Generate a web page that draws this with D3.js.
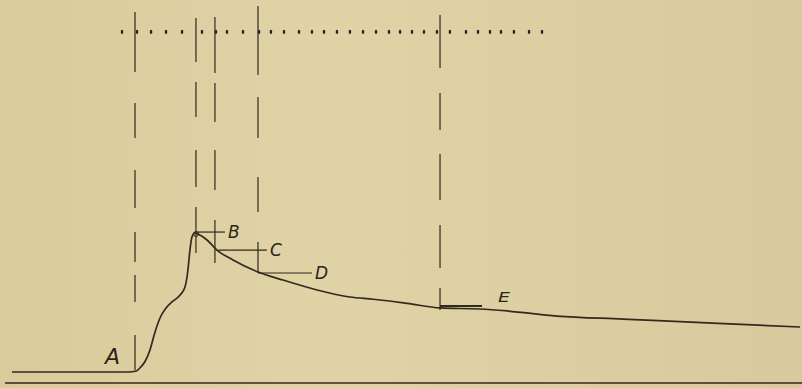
<!DOCTYPE html>
<html>
<head>
<meta charset="utf-8">
<script src="https://cdn.jsdelivr.net/npm/d3@7"></script>
<style>
  body { margin: 0; background: #dccf9f; }
  svg { display: block; }
  .lbl { font-family: "DejaVu Sans", sans-serif; font-style: italic; fill: #2e2519; }
</style>
</head>
<body>
<div id="chart"></div>
<script>
// recorded curve: time (timer dots) vs height
var curveT = [0.9, 9.6, 10.2, 10.5, 10.85, 11.22, 11.6, 11.97, 12.42, 12.87, 13.47, 13.84, 14.06, 14.21, 14.36, 14.59,
              14.81, 15.49, 16.23, 17.43, 19.3, 21.17, 23.72, 26.18, 27.9, 30.45, 32.92, 35.9, 37.93, 41.67, 46.6, 52.9, 59.85];
var curveH = [0, 0, 0.07, 0.3, 0.7, 1.47, 2.67, 3.6, 4.27, 4.67, 5.13, 5.67, 6.8, 8.13, 9.0, 9.27,
              9.2, 8.8, 8.13, 7.47, 6.67, 6.13, 5.47, 5.0, 4.85, 4.58, 4.27, 4.2, 4.07, 3.73, 3.53, 3.27, 3.0];

// timer marks along the top
var dotT = [9.13, 10.25, 11.3, 12.42, 13.62, 15.11, 16.16, 16.98, 18.18, 19.38, 20.27, 21.25, 22.37, 23.34, 24.24, 25.21,
            26.18, 27.16, 28.13, 29.1, 29.93, 30.82, 31.72, 32.69, 33.66, 34.86, 35.76, 36.66, 37.48, 38.45, 39.58, 40.55];
var dotH = 22.67;

// dashed marker lines (A .. E)
var markerT = [10.1, 14.66, 16.08, 19.3, 32.92];
var markerTop = [24.0, 23.6, 23.67, 24.4, 23.8];
var markerBottom = [0.13, 7.93, 7.27, 6.6, 4.13];

// lettered points with leader lines
var labels = ["A", "B", "C", "D", "E"];
var leaderStart = [null, 14.74, 16.3, 19.3, 32.92];
var leaderEnd = [null, 16.83, 19.97, 23.34, 36.06];
var leaderH = [null, 9.33, 8.13, 6.6, 4.4];

var width = 802, height = 388;
var x = d3.scaleLinear().domain([0, 60]).range([0, 802]);
var y = d3.scaleLinear().domain([0, 10]).range([372, 222]);

// hand-ruled dashes differ from line to line
var markerDash = ['60,31,35,32,38,24,30,13,27,33,40',
                  '44,20,35,33,37,20,50',
                  '56,10,39,28,40,30,46',
                  '69,22,41,39,35,30,35',
                  '53,25,37,24,46,25,43,20,30'];

var svg = d3.select('#chart').append('svg')
  .attr('width', width)
  .attr('height', height);

var grad = svg.append('defs').append('linearGradient')
  .attr('id', 'paper').attr('x1', 0).attr('x2', 1).attr('y1', 0).attr('y2', 0);
grad.append('stop').attr('offset', '0%').attr('stop-color', '#d9cb9b');
grad.append('stop').attr('offset', '40%').attr('stop-color', '#e0d3a6');
grad.append('stop').attr('offset', '100%').attr('stop-color', '#d8ca9c');
svg.append('rect').attr('width', width).attr('height', height).attr('fill', 'url(#paper)');

var ink = '#33291d';

// bottom line
svg.append('line')
  .attr('x1', x(0.37)).attr('x2', x(60))
  .attr('y1', y(-0.73)).attr('y2', y(-0.73))
  .attr('stroke', ink).attr('stroke-width', 1.4);

// dashed markers
svg.selectAll('.marker')
  .data(markerT)
  .enter()
  .append('line')
  .attr('class', 'marker')
  .attr('x1', function (d) { return x(d); })
  .attr('x2', function (d) { return x(d); })
  .attr('y1', function (d, i) { return y(markerTop[i]); })
  .attr('y2', function (d, i) { return y(markerBottom[i]); })
  .attr('stroke', ink)
  .attr('stroke-width', 1.2)
  .attr('stroke-dasharray', function (d, i) { return markerDash[i] + ',400'; });

// timer dots
svg.selectAll('.dot')
  .data(dotT)
  .enter()
  .append('ellipse')
  .attr('cx', function (d) { return x(d); })
  .attr('cy', y(dotH))
  .attr('rx', 1.3)
  .attr('ry', 2.1)
  .attr('fill', '#2a2230');

// the curve
var pts = curveT.map(function (t, i) { return [t, curveH[i]]; });
var line = d3.line()
  .x(function (d) { return x(d[0]); })
  .y(function (d) { return y(d[1]); })
  .curve(d3.curveMonotoneX);
svg.append('path')
  .attr('d', line(pts))
  .attr('fill', 'none')
  .attr('stroke', ink)
  .attr('stroke-width', 1.7);

// small ring at the peak
svg.append('circle')
  .attr('cx', x(14.66)).attr('cy', y(9.2))
  .attr('r', 2.5)
  .attr('fill', 'none')
  .attr('stroke', ink)
  .attr('stroke-width', 1);

// leaders
var lead = d3.range(1, labels.length);
svg.selectAll('.leader')
  .data(lead)
  .enter()
  .append('line')
  .attr('x1', function (i) { return x(leaderStart[i]); })
  .attr('x2', function (i) { return x(leaderEnd[i]); })
  .attr('y1', function (i) { return y(leaderH[i]); })
  .attr('y2', function (i) { return y(leaderH[i]); })
  .attr('stroke', ink)
  .attr('stroke-width', function (i) { return i === 4 ? 2 : 1.2; });

// letters
svg.append('text').attr('class', 'lbl')
  .attr('x', x(7.85)).attr('y', y(0.53))
  .attr('font-size', 22)
  .text(labels[0]);
svg.selectAll('.letter')
  .data(lead)
  .enter()
  .append('text')
  .attr('class', 'lbl')
  .attr('x', function (i) { return x(leaderEnd[i]) + (i === 4 ? 16 : 3); })
  .attr('y', function (i) { return y(leaderH[i]) + (i === 4 ? -4 : 6); })
  .attr('font-size', function (i) { return i === 4 ? 14 : 17; })
  .attr('transform', function (i) {
    if (i !== 4) return null;
    var tx = x(leaderEnd[i]) + 16;
    return 'translate(' + tx + ',0) scale(1.35,1) translate(' + (-tx) + ',0)';
  })
  .text(function (i) { return labels[i]; });
</script>
</body>
</html>
